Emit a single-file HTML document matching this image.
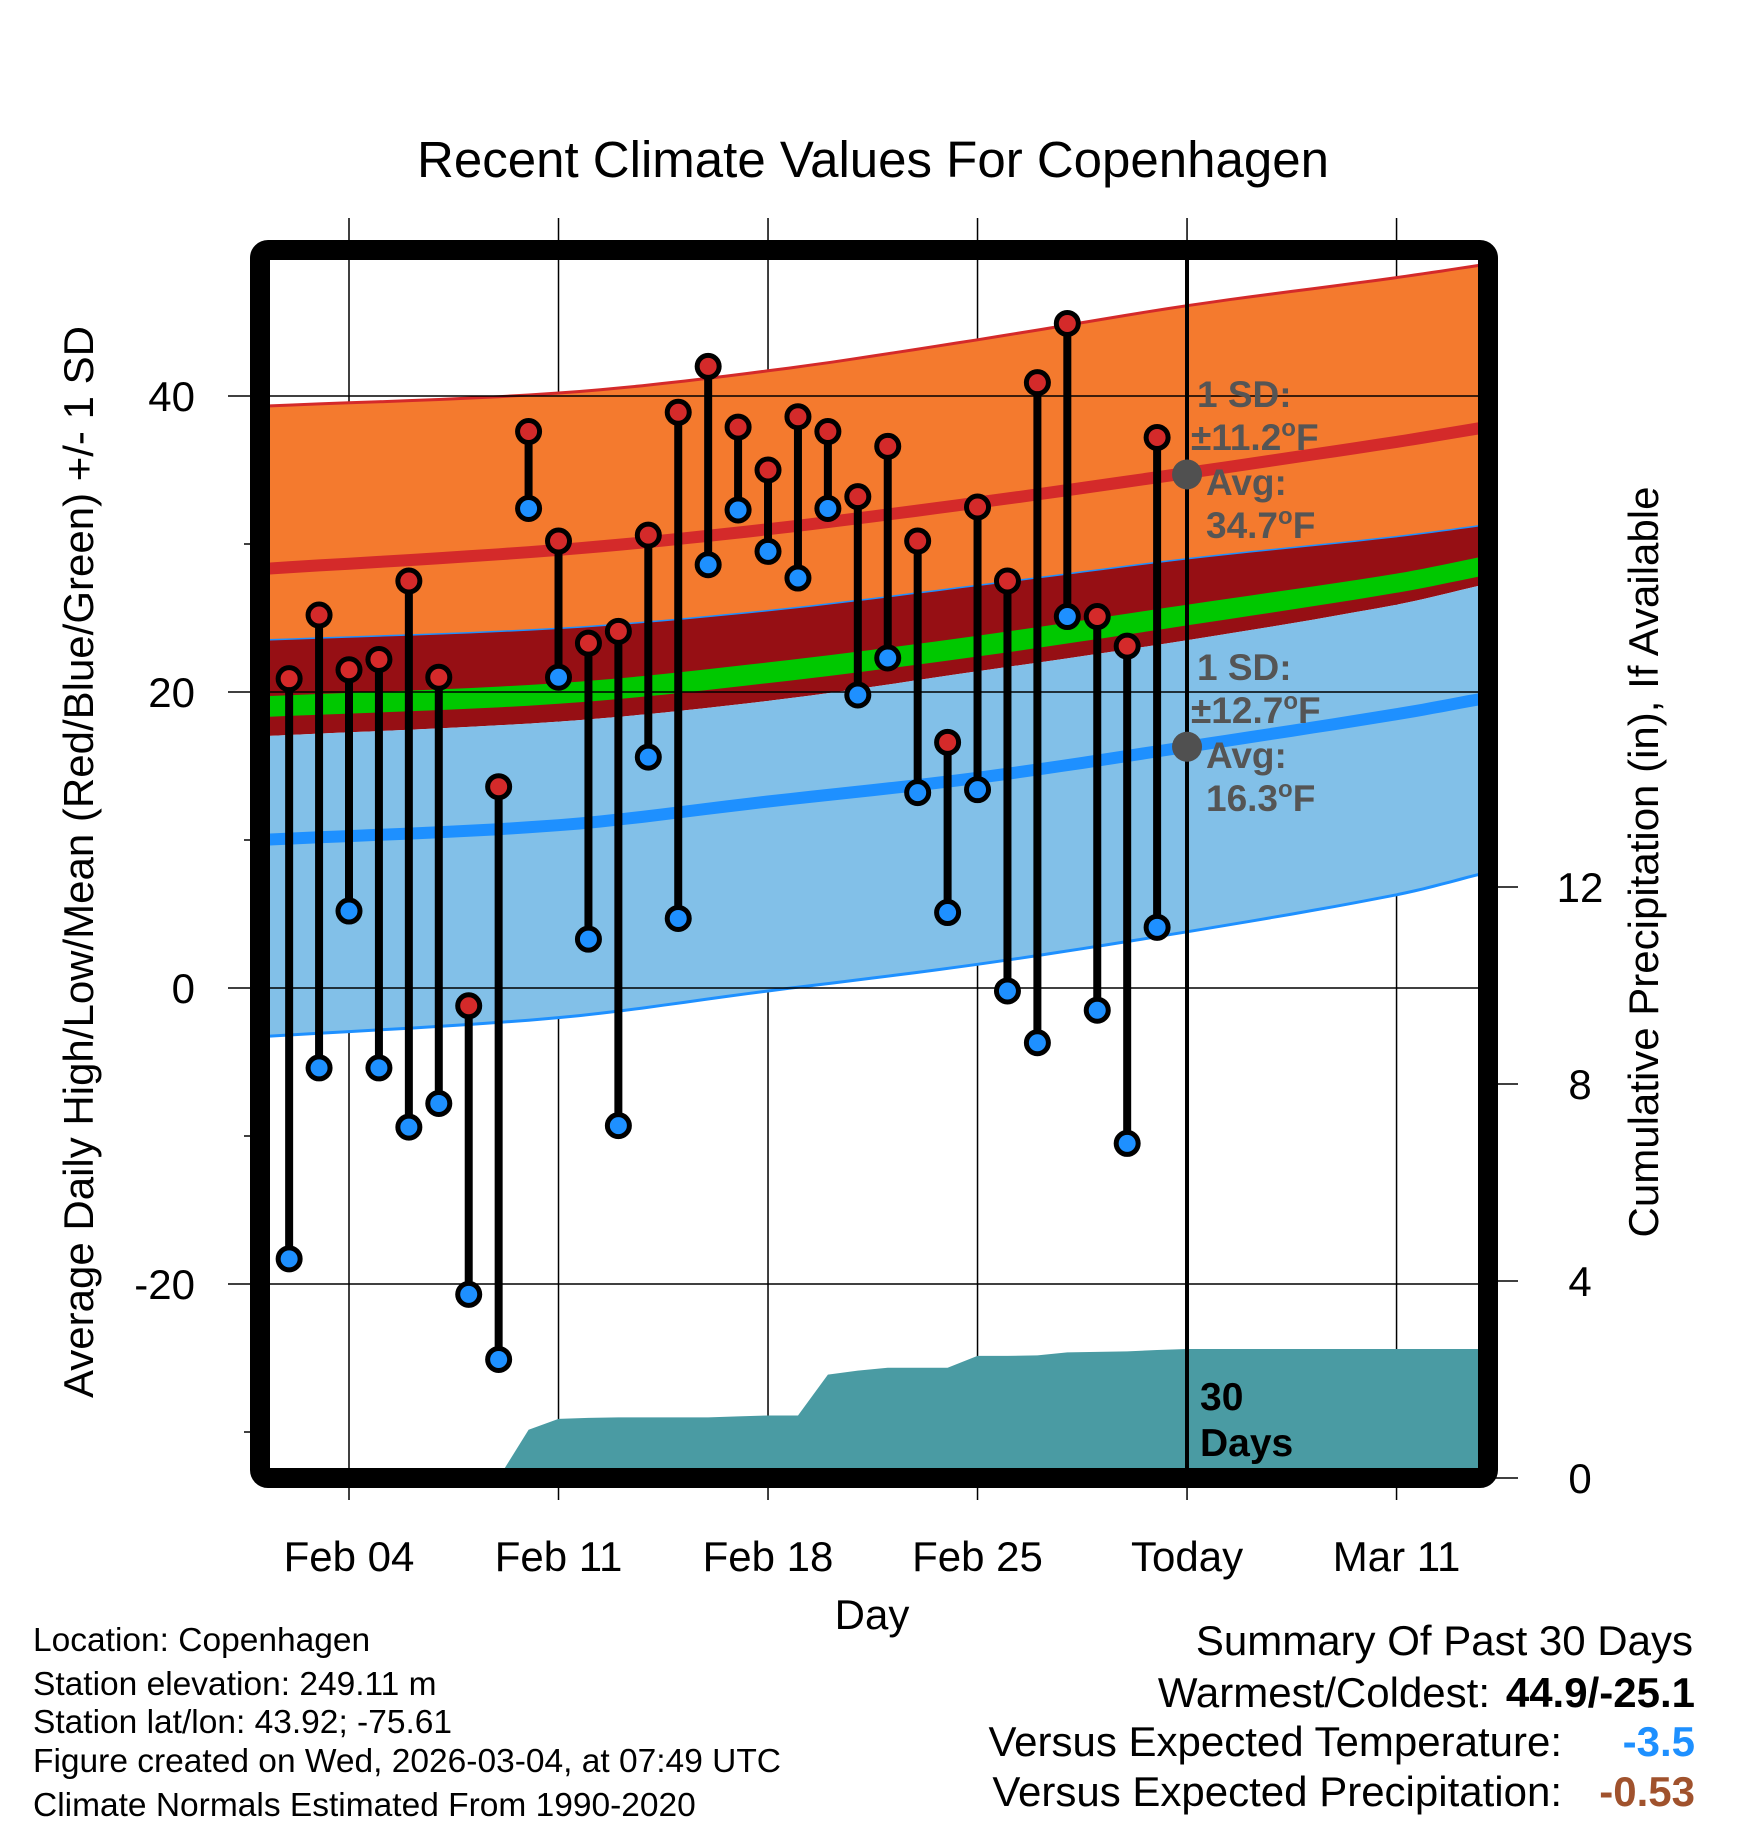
<!DOCTYPE html>
<html><head><meta charset="utf-8"><style>
body{margin:0;background:#fff;}
svg{display:block;font-family:"Liberation Sans",sans-serif;}
</style></head><body>
<svg id="chart" width="1748" height="1828" viewBox="0 0 1748 1828" xmlns="http://www.w3.org/2000/svg">
<defs><clipPath id="plotclip"><rect x="270" y="260" width="1208" height="1208"/></clipPath></defs>
<text x="873" y="177" font-size="51" text-anchor="middle">Recent Climate Values For Copenhagen</text>
<g id="grid"></g>
<g id="bands" clip-path="url(#plotclip)"></g>
<g id="precip" clip-path="url(#plotclip)"></g>
<g id="gridin" clip-path="url(#plotclip)"></g>
<line x1="1187" y1="260" x2="1187" y2="1468" stroke="#000" stroke-width="4"/>
<g id="annot"></g>
<g id="points"></g>
<rect x="260" y="250" width="1228" height="1228" rx="8" fill="none" stroke="#000" stroke-width="20"/>
<g id="axes"></g>
<text transform="translate(93,862) rotate(-90)" font-size="42" text-anchor="middle">Average Daily High/Low/Mean (Red/Blue/Green) +/- 1 SD</text>
<text transform="translate(1658,862) rotate(-90)" font-size="42" text-anchor="middle">Cumulative Precipitation (in), If Available</text>
<text x="872" y="1629" font-size="42" text-anchor="middle">Day</text>
<g font-size="33.5">
<text x="33" y="1651">Location: Copenhagen</text>
<text x="33" y="1695">Station elevation: 249.11 m</text>
<text x="33" y="1733">Station lat/lon: 43.92; -75.61</text>
<text x="33" y="1772">Figure created on Wed, 2026-03-04, at 07:49 UTC</text>
<text x="33" y="1816">Climate Normals Estimated From 1990-2020</text>
</g>
<g font-size="42">
<text x="1693" y="1655" text-anchor="end">Summary Of Past 30 Days</text>
<text x="1490" y="1707" text-anchor="end">Warmest/Coldest:</text>
<text x="1695" y="1707" text-anchor="end" font-weight="bold">44.9/-25.1</text>
<text x="1562" y="1756" text-anchor="end">Versus Expected Temperature:</text>
<text x="1695" y="1756" text-anchor="end" font-weight="bold" fill="#1E90FF">-3.5</text>
<text x="1562" y="1806" text-anchor="end">Versus Expected Precipitation:</text>
<text x="1695" y="1806" text-anchor="end" font-weight="bold" fill="#A0522D">-0.53</text>
</g>
</svg>
<script>
const days=[2,3,4,5,6,7,8,9,10,11,12,13,14,15,16,17,18,19,20,21,22,23,24,25,26,27,28,29,30,31];
const highs=[20.9,25.2,21.5,22.2,27.5,21.0,-1.2,13.6,37.6,30.2,23.3,24.1,30.6,38.9,42.0,37.9,35.0,38.6,37.6,33.2,36.6,30.2,16.6,32.5,27.5,40.9,44.9,25.1,23.1,37.2];
const lows=[-18.3,-5.4,5.2,-5.4,-9.4,-7.8,-20.7,-25.1,32.4,21.0,3.3,-9.3,15.6,4.7,28.6,32.3,29.5,27.7,32.4,19.8,22.3,13.2,5.1,13.4,-0.2,-3.7,25.1,-1.5,-10.5,4.1];
const normDays=[1,11,18,25,32,39,42];
const hiTop=[39.3,40.2,41.7,43.8,46.1,48.0,48.9];
const hiAvg=[28.3,29.6,31.0,32.8,34.8,36.9,37.9];
const hiBot=[23.5,24.3,25.5,27.2,29.0,30.5,31.3];
const meanTop=[19.7,20.6,22.0,23.8,25.9,28.0,29.2];
const meanBot=[18.3,19.2,20.6,22.4,24.5,26.7,27.9];
const loTop=[17.0,18.0,19.4,21.4,23.5,25.9,27.3];
const loAvg=[10.0,11.0,12.6,14.2,16.3,18.5,19.6];
const loBot=[-3.3,-2.0,-0.2,1.6,3.8,6.3,7.8];
const precipDays=[9,10,11,12,13,14,15,16,17,18,19,20,21,22,23,24,25,26,27,28,29,30,31,32];
const precipVals=[0,0.98,1.2,1.22,1.23,1.23,1.23,1.23,1.25,1.27,1.27,2.1,2.18,2.24,2.24,2.24,2.48,2.48,2.49,2.55,2.56,2.57,2.6,2.62];
const xTickDays=[4,11,18,25,32,39];
const xTickLabels=["Feb 04","Feb 11","Feb 18","Feb 25","Today","Mar 11"];
const yTicks=[40,20,0,-20];
const yMinor=[30,10,-10,-30];
const y2Ticks=[0,4,8,12];

const NS="http://www.w3.org/2000/svg";
const X=d=>349+(d-4)*29.93;
const Y=v=>988-v*14.8;
const YP=p=>1478-p*49.25;
function mk(parent,tag,attrs){const e=document.createElementNS(NS,tag);for(const k in attrs)e.setAttribute(k,attrs[k]);document.getElementById(parent).appendChild(e);return e;}
// smooth (Catmull-Rom style) resampling of sampled normals for rendering
function smooth(arr){
  const out=[];const n=normDays.length;
  for(let i=0;i<n-1;i++){
    const d0=normDays[Math.max(i-1,0)],d1=normDays[i],d2=normDays[i+1],d3=normDays[Math.min(i+2,n-1)];
    const v0=arr[Math.max(i-1,0)],v1=arr[i],v2=arr[i+1],v3=arr[Math.min(i+2,n-1)];
    const m1=(v2-v0)/(d2-d0||1)*(d2-d1), m2=(v3-v1)/(d3-d1||1)*(d2-d1);
    for(let k=0;k<10;k++){
      const t=k/10,t2=t*t,t3=t2*t;
      const v=(2*t3-3*t2+1)*v1+(t3-2*t2+t)*m1+(-2*t3+3*t2)*v2+(t3-t2)*m2;
      out.push([d1+(d2-d1)*t,v]);
    }
  }
  out.push([normDays[n-1],arr[n-1]]);
  return out.map(p=>X(p[0]).toFixed(1)+","+Y(p[1]).toFixed(1));
}
function band(top,bot,fill,name){
  const p=smooth(top).concat(smooth(bot).reverse());
  const e=mk('bands','polygon',{points:p.join(' '),fill:fill});
  
  
}
function line(arr,color,w,name){
  const e=mk('bands','polyline',{points:smooth(arr).join(' '),fill:'none',stroke:color,'stroke-width':w});
  
  
}
band(hiTop,hiBot,'#F47A2E','high-sd-band');
band(hiBot,loTop,'#960F14','mean-sd-band');
band(meanTop,meanBot,'#00C800','mean-band');
band(loTop,loBot,'#82C0E8','low-sd-band');
line(hiTop,'#D42A2A',3,'high-plus-sd-line');
line(hiAvg,'#D42A2A',12,'high-avg-line');
line(hiBot,'#1E90FF',1.5,'high-minus-sd-line');
line(loAvg,'#1E90FF',12,'low-avg-line');
line(loBot,'#1E90FF',3,'low-minus-sd-line');

{
  const p=precipDays.map((d,i)=>X(d).toFixed(1)+","+YP(precipVals[i]).toFixed(1));
  const last=precipVals[precipVals.length-1];
  p.push(X(43)+","+YP(last).toFixed(1));
  p.push(X(43)+",1480");p.push(X(precipDays[0])+",1480");
  const e=mk('precip','polygon',{points:p.join(' '),fill:'#4A9BA3'});
  
  
}
xTickDays.forEach(d=>{
  const e=mk('grid','line',{x1:X(d),x2:X(d),y1:218,y2:1500,stroke:'#000','stroke-width':1.5});
  
  
});
yTicks.forEach(v=>{
  const e=mk('gridin','line',{x1:228,x2:1478,y1:Y(v),y2:Y(v),stroke:'#000','stroke-width':1.5});
  
  
  const t=mk('grid','line',{x1:228,x2:260,y1:Y(v),y2:Y(v),stroke:'#000','stroke-width':1.5});
  
  
});
yMinor.forEach(v=>{
  const t=mk('grid','line',{x1:244,x2:260,y1:Y(v),y2:Y(v),stroke:'#000','stroke-width':1.5});
  
  
});
y2Ticks.forEach(p=>{
  const t=mk('grid','line',{x1:1488,x2:1518,y1:YP(p),y2:YP(p),stroke:'#000','stroke-width':1.5});
  
  
  const l=mk('axes','text',{x:1580,y:YP(p)+15,'font-size':42,'text-anchor':'middle'});
  l.textContent=p;
  
  
});
yTicks.forEach(v=>{
  const l=mk('axes','text',{x:195,y:Y(v)+15,'font-size':42,'text-anchor':'end'});
  l.textContent=v;
  
  
});
xTickDays.forEach((d,i)=>{
  const l=mk('axes','text',{x:X(d),y:1571,'font-size':42,'text-anchor':'middle'});
  l.textContent=xTickLabels[i];
  
  
});
function degText(x,y,pre,post,name){
  const t=mk('annot','text',{x:x,y:y,'font-size':37,'font-weight':'bold',fill:'#555'});
  
  
  t.appendChild(document.createTextNode(pre));
  const s=document.createElementNS(NS,'tspan');s.setAttribute('font-size','24');s.setAttribute('dy','-14');s.textContent='o';t.appendChild(s);
  const s2=document.createElementNS(NS,'tspan');s2.setAttribute('dy','14');s2.textContent=post;t.appendChild(s2);
}
[[34.7,'±11.2','34.7',394],[16.3,'±12.7','16.3',667]].forEach(a=>{
  const c=mk('annot','circle',{cx:X(32),cy:Y(a[0]),r:15,fill:'#505050'});
  
  
  const t1=mk('annot','text',{x:1197,y:a[3]+13,'font-size':37,'font-weight':'bold',fill:'#555'});
  t1.textContent='1 SD:';
  
  
  degText(1191,a[3]+56,a[1],'F','sd-annotation');
  const t3=mk('annot','text',{x:1206,y:a[3]+101,'font-size':37,'font-weight':'bold',fill:'#555'});
  t3.textContent='Avg:';
  
  
  degText(1206,a[3]+144,a[2],'F','avg-annotation');
});
{
  const t1=mk('annot','text',{x:1200,y:1410,'font-size':39,'font-weight':'bold'});t1.textContent='30';
  
  
  const t2=mk('annot','text',{x:1200,y:1456,'font-size':39,'font-weight':'bold'});t2.textContent='Days';
  
  
}
days.forEach((d,i)=>{
  const s=mk('points','line',{x1:X(d),x2:X(d),y1:Y(highs[i]),y2:Y(lows[i]),stroke:'#000','stroke-width':8});
  
  
});
days.forEach((d,i)=>{
  const h=mk('points','circle',{cx:X(d),cy:Y(highs[i]),r:11,fill:'#D42A2A',stroke:'#000','stroke-width':5});
  
  
  const l=mk('points','circle',{cx:X(d),cy:Y(lows[i]),r:11,fill:'#1E90FF',stroke:'#000','stroke-width':5});
  
  
});
</script>
</body></html>
